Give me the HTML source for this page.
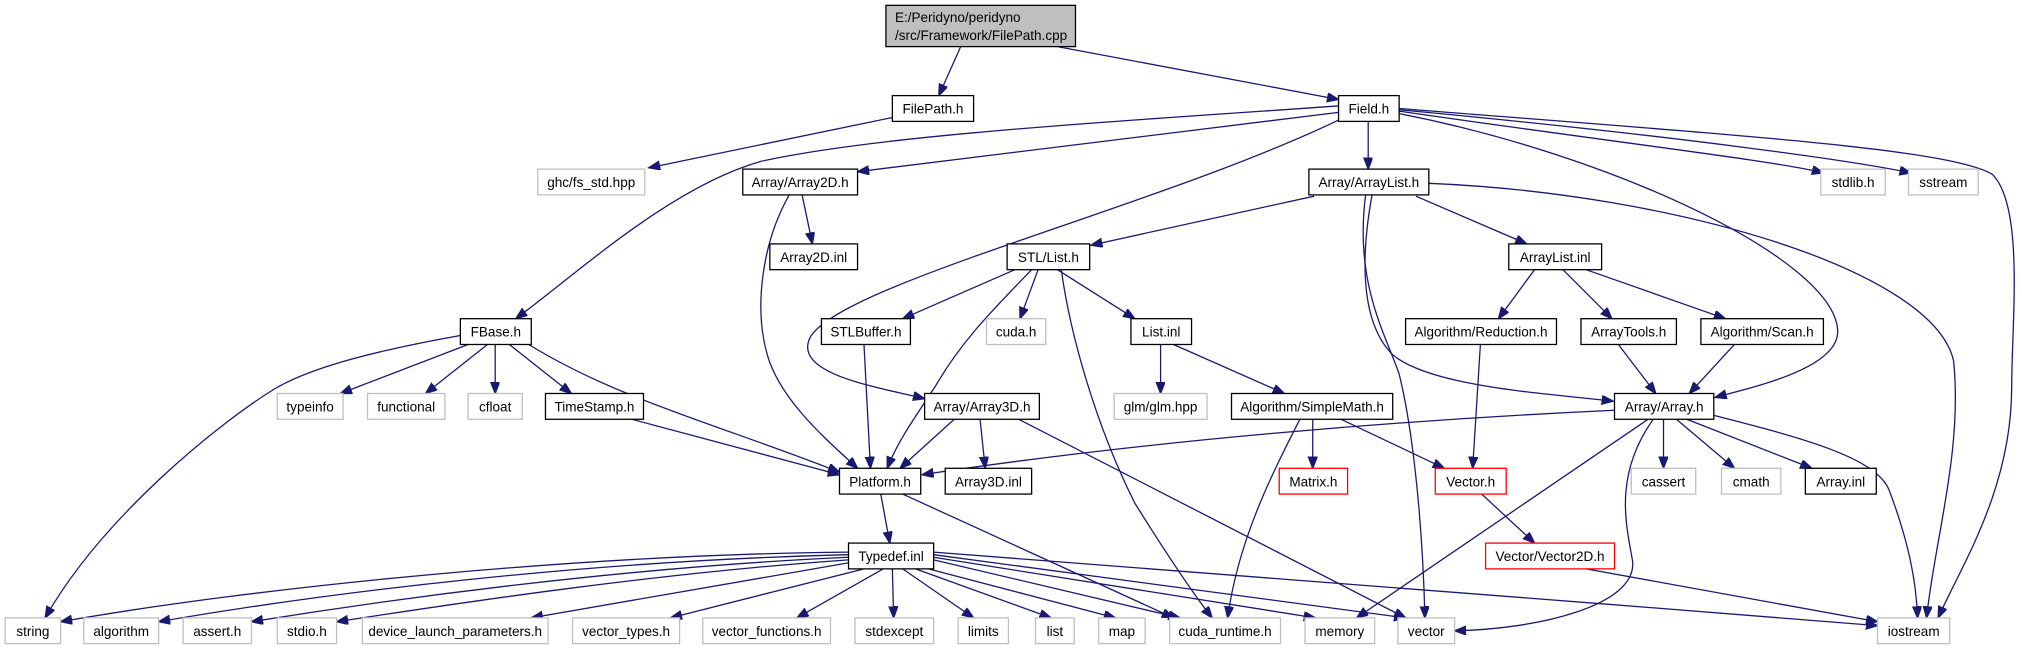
<!DOCTYPE html>
<html><head><meta charset="utf-8"><style>
html,body{margin:0;padding:0;background:#fff;}
svg{display:block;}
text{font-family:"Liberation Sans",Arial,sans-serif;font-size:10.5px;fill:#000;}
.n{fill:#fff;stroke:#000;stroke-width:1;}
.g{fill:#fff;stroke:#bfbfbf;stroke-width:1;}
.r{fill:#fff;stroke:#ff0000;stroke-width:1;}
path.e{fill:none;stroke:#191970;stroke-width:1;marker-end:url(#a);}
</style></head><body>
<svg width="2022" height="649" viewBox="0 0 1568 503" xmlns="http://www.w3.org/2000/svg">
<defs><marker id="a" markerUnits="userSpaceOnUse" markerWidth="10" markerHeight="8" refX="9" refY="3.5" orient="auto"><path d="M0,0 L9,3.5 L0,7 z" fill="#191970" stroke="#191970"/></marker></defs>
<g>
<path class="e" d="M745,36 L728,74"/>
<path class="e" d="M820,36 L1038,77"/>
<path class="e" d="M692,91 L503,130"/>
<path class="e" d="M1038,82 C850,95 680,105 590,125 C520,145 450,210 400,247"/>
<path class="e" d="M1038,87 L665,133"/>
<path class="e" d="M1040,92 C900,160 650,220 628,262 C615,290 680,300 717,309"/>
<path class="e" d="M1061,94 L1061,131"/>
<path class="e" d="M1085,88 C1250,120 1420,200 1425,255 C1428,285 1360,300 1330,308"/>
<path class="e" d="M1064,151 C1055,200 1055,250 1080,275 C1110,300 1200,305 1251,311"/>
<path class="e" d="M1059,151 C1050,220 1075,260 1085,290 C1095,330 1103,400 1105,479"/>
<path class="e" d="M1108,142 C1300,150 1500,210 1515,280 C1522,350 1500,420 1494,479"/>
<path class="e" d="M1085,84 C1350,105 1510,115 1545,135 C1570,160 1560,250 1560,300 C1560,380 1520,440 1503,479"/>
<path class="e" d="M1085,86 C1250,110 1380,125 1414,134"/>
<path class="e" d="M1085,85 C1300,105 1440,125 1482,134"/>
<path class="e" d="M622,151 L630,189"/>
<path class="e" d="M612,151 C590,190 585,240 595,275 C605,310 640,340 665,363"/>
<path class="e" d="M1019,152 L846,190"/>
<path class="e" d="M1098,152 L1184,189"/>
<path class="e" d="M787,209 L700,247"/>
<path class="e" d="M805,209 L791,247"/>
<path class="e" d="M820,209 L880,247"/>
<path class="e" d="M800,209 C770,240 745,265 725,300 C705,330 695,345 688,363"/>
<path class="e" d="M823,209 C830,260 850,330 880,390 C905,430 925,460 940,479"/>
<path class="e" d="M1190,209 L1162,247"/>
<path class="e" d="M1212,209 L1250,247"/>
<path class="e" d="M1230,209 L1338,247"/>
<path class="e" d="M900,267 L900,305"/>
<path class="e" d="M910,267 L996,305"/>
<path class="e" d="M1148,267 L1142,363"/>
<path class="e" d="M1255,267 L1284,305"/>
<path class="e" d="M1345,267 L1310,305"/>
<path class="e" d="M357,260 C290,272 240,285 212,302 C170,328 80,400 35,479"/>
<path class="e" d="M363,267 L264,305"/>
<path class="e" d="M378,267 L330,305"/>
<path class="e" d="M384,267 L384,305"/>
<path class="e" d="M395,267 L443,305"/>
<path class="e" d="M410,267 C480,310 560,330 651,366"/>
<path class="e" d="M490,325 L651,368"/>
<path class="e" d="M670,267 L675,363"/>
<path class="e" d="M740,325 L698,363"/>
<path class="e" d="M760,325 L764,363"/>
<path class="e" d="M790,325 L1090,479"/>
<path class="e" d="M1018,325 L1018,363"/>
<path class="e" d="M1040,325 L1120,363"/>
<path class="e" d="M1008,325 C985,370 960,420 952,479"/>
<path class="e" d="M1252,318 C1100,325 900,340 715,368"/>
<path class="e" d="M1278,325 L1052,479"/>
<path class="e" d="M1282,325 C1250,370 1262,410 1266,435 C1270,470 1190,488 1128,489"/>
<path class="e" d="M1290,325 L1290,363"/>
<path class="e" d="M1300,325 L1345,363"/>
<path class="e" d="M1308,325 L1405,363"/>
<path class="e" d="M1329,322 C1400,340 1455,355 1465,380 C1480,420 1486,450 1487,479"/>
<path class="e" d="M683,383 L690,421"/>
<path class="e" d="M700,383 L910,479"/>
<path class="e" d="M1149,383 L1190,421"/>
<path class="e" d="M1230,441 L1456,482"/>
<path class="e" d="M658,428 C450,430 200,455 47,482"/>
<path class="e" d="M658,430 C450,435 250,460 123,482"/>
<path class="e" d="M658,432 C480,440 300,465 195,482"/>
<path class="e" d="M658,434 C500,445 340,470 261,482"/>
<path class="e" d="M660,436 L412,479"/>
<path class="e" d="M670,441 L520,479"/>
<path class="e" d="M685,441 L618,479"/>
<path class="e" d="M692,441 L693,479"/>
<path class="e" d="M700,441 L755,479"/>
<path class="e" d="M710,441 L815,479"/>
<path class="e" d="M720,441 L865,479"/>
<path class="e" d="M724,434 L915,479"/>
<path class="e" d="M724,432 L1020,479"/>
<path class="e" d="M724,430 L1090,479"/>
<path class="e" d="M724,428 C900,440 1200,465 1456,485"/>
</g>
<g>
<rect x="687" y="4" width="147" height="32" fill="#bfbfbf" stroke="#000"/>
<text x="694" y="17">E:/Peridyno/peridyno</text>
<text x="694" y="31">/src/Framework/FilePath.cpp</text>

<rect class="n" x="692" y="74" width="63" height="20"/><text x="723.5" y="88" text-anchor="middle">FilePath.h</text>
<rect class="n" x="1038" y="74" width="47" height="20"/><text x="1061.5" y="88" text-anchor="middle">Field.h</text>

<rect class="g" x="417" y="131" width="83" height="20"/><text x="458.5" y="145" text-anchor="middle">ghc/fs_std.hpp</text>
<rect class="n" x="576" y="131" width="89" height="20"/><text x="620.5" y="145" text-anchor="middle">Array/Array2D.h</text>
<rect class="n" x="1015" y="131" width="93" height="20"/><text x="1061.5" y="145" text-anchor="middle">Array/ArrayList.h</text>
<rect class="g" x="1412" y="131" width="50" height="20"/><text x="1437" y="145" text-anchor="middle">stdlib.h</text>
<rect class="g" x="1480" y="131" width="54" height="20"/><text x="1507" y="145" text-anchor="middle">sstream</text>

<rect class="n" x="597" y="189" width="68" height="20"/><text x="631" y="203" text-anchor="middle">Array2D.inl</text>
<rect class="n" x="781" y="189" width="64" height="20"/><text x="813" y="203" text-anchor="middle">STL/List.h</text>
<rect class="n" x="1170" y="189" width="72" height="20"/><text x="1206" y="203" text-anchor="middle">ArrayList.inl</text>

<rect class="n" x="357" y="247" width="55" height="20"/><text x="384.5" y="261" text-anchor="middle">FBase.h</text>
<rect class="n" x="637" y="247" width="69" height="20"/><text x="671.5" y="261" text-anchor="middle">STLBuffer.h</text>
<rect class="g" x="765" y="247" width="46" height="20"/><text x="788" y="261" text-anchor="middle">cuda.h</text>
<rect class="n" x="877" y="247" width="47" height="20"/><text x="900.5" y="261" text-anchor="middle">List.inl</text>
<rect class="n" x="1090" y="247" width="117" height="20"/><text x="1148.5" y="261" text-anchor="middle">Algorithm/Reduction.h</text>
<rect class="n" x="1226" y="247" width="74" height="20"/><text x="1263" y="261" text-anchor="middle">ArrayTools.h</text>
<rect class="n" x="1319" y="247" width="95" height="20"/><text x="1366.5" y="261" text-anchor="middle">Algorithm/Scan.h</text>

<rect class="g" x="215" y="305" width="51" height="20"/><text x="240.5" y="319" text-anchor="middle">typeinfo</text>
<rect class="g" x="285" y="305" width="60" height="20"/><text x="315" y="319" text-anchor="middle">functional</text>
<rect class="g" x="363" y="305" width="42" height="20"/><text x="384" y="319" text-anchor="middle">cfloat</text>
<rect class="n" x="423" y="305" width="76" height="20"/><text x="461" y="319" text-anchor="middle">TimeStamp.h</text>
<rect class="n" x="717" y="305" width="89" height="20"/><text x="761.5" y="319" text-anchor="middle">Array/Array3D.h</text>
<rect class="g" x="864" y="305" width="72" height="20"/><text x="900" y="319" text-anchor="middle">glm/glm.hpp</text>
<rect class="n" x="955" y="305" width="125" height="20"/><text x="1017.5" y="319" text-anchor="middle">Algorithm/SimpleMath.h</text>
<rect class="n" x="1252" y="305" width="77" height="20"/><text x="1290.5" y="319" text-anchor="middle">Array/Array.h</text>

<rect class="n" x="651" y="363" width="63" height="20"/><text x="682.5" y="377" text-anchor="middle">Platform.h</text>
<rect class="n" x="733" y="363" width="67" height="20"/><text x="766.5" y="377" text-anchor="middle">Array3D.inl</text>
<rect class="r" x="992" y="363" width="53" height="20"/><text x="1018.5" y="377" text-anchor="middle">Matrix.h</text>
<rect class="r" x="1113" y="363" width="55" height="20"/><text x="1140.5" y="377" text-anchor="middle">Vector.h</text>
<rect class="g" x="1265" y="363" width="50" height="20"/><text x="1290" y="377" text-anchor="middle">cassert</text>
<rect class="g" x="1335" y="363" width="46" height="20"/><text x="1358" y="377" text-anchor="middle">cmath</text>
<rect class="n" x="1400" y="363" width="55" height="20"/><text x="1427.5" y="377" text-anchor="middle">Array.inl</text>

<rect class="n" x="658" y="421" width="66" height="20"/><text x="691" y="435" text-anchor="middle">Typedef.inl</text>
<rect class="r" x="1152" y="421" width="100" height="20"/><text x="1202" y="435" text-anchor="middle">Vector/Vector2D.h</text>

<rect class="g" x="4" y="479" width="43" height="20"/><text x="25.5" y="493" text-anchor="middle">string</text>
<rect class="g" x="65" y="479" width="58" height="20"/><text x="94" y="493" text-anchor="middle">algorithm</text>
<rect class="g" x="142" y="479" width="53" height="20"/><text x="168.5" y="493" text-anchor="middle">assert.h</text>
<rect class="g" x="215" y="479" width="46" height="20"/><text x="238" y="493" text-anchor="middle">stdio.h</text>
<rect class="g" x="281" y="479" width="144" height="20"/><text x="353" y="493" text-anchor="middle">device_launch_parameters.h</text>
<rect class="g" x="444" y="479" width="83" height="20"/><text x="485.5" y="493" text-anchor="middle">vector_types.h</text>
<rect class="g" x="545" y="479" width="99" height="20"/><text x="594.5" y="493" text-anchor="middle">vector_functions.h</text>
<rect class="g" x="663" y="479" width="61" height="20"/><text x="693.5" y="493" text-anchor="middle">stdexcept</text>
<rect class="g" x="743" y="479" width="39" height="20"/><text x="762.5" y="493" text-anchor="middle">limits</text>
<rect class="g" x="803" y="479" width="30" height="20"/><text x="818" y="493" text-anchor="middle">list</text>
<rect class="g" x="852" y="479" width="36" height="20"/><text x="870" y="493" text-anchor="middle">map</text>
<rect class="g" x="907" y="479" width="86" height="20"/><text x="950" y="493" text-anchor="middle">cuda_runtime.h</text>
<rect class="g" x="1012" y="479" width="54" height="20"/><text x="1039" y="493" text-anchor="middle">memory</text>
<rect class="g" x="1084" y="479" width="44" height="20"/><text x="1106" y="493" text-anchor="middle">vector</text>
<rect class="g" x="1456" y="479" width="56" height="20"/><text x="1484" y="493" text-anchor="middle">iostream</text>
</g>
</svg>
</body></html>
